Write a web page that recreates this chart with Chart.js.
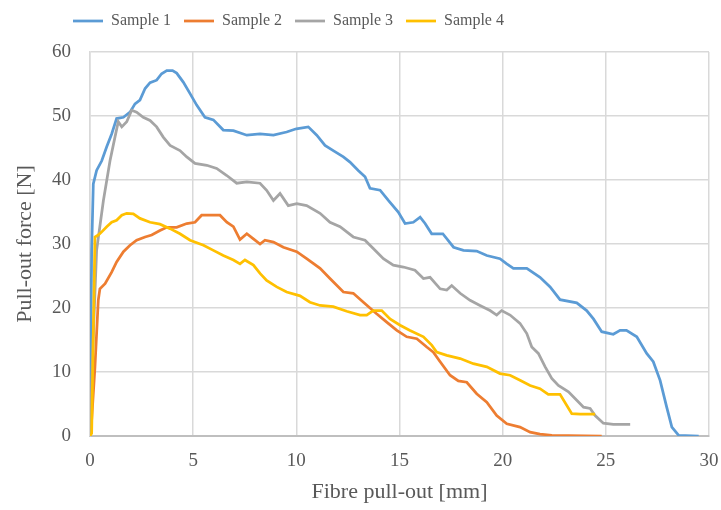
<!DOCTYPE html>
<html>
<head>
<meta charset="utf-8">
<script src="https://cdn.jsdelivr.net/npm/chart.js@4.4.1/dist/chart.umd.min.js"></script>
<style>
  html, body { margin: 0; padding: 0; background: #fff; }
</style>
</head>
<body>
<canvas id="pullout" width="721" height="510"></canvas>
<script>
// pull-out curves, force [N] against displacement [mm]
const sample1X = [0, 0.08, 0.16, 0.32, 0.57, 0.81, 1.05, 1.29, 1.62, 1.94, 2.18, 2.42, 2.67, 2.91, 3.23, 3.47, 3.72, 4.0, 4.2, 4.52, 4.85, 5.17, 5.57, 5.98, 6.46, 6.95, 7.6, 8.24, 8.89, 9.53, 10.0, 10.58, 10.99, 11.39, 11.79, 12.28, 12.6, 13.0, 13.33, 13.57, 14.06, 14.46, 14.94, 15.27, 15.67, 16.0, 16.24, 16.56, 17.1, 17.62, 18.1, 18.74, 19.23, 19.87, 20.2, 20.52, 21.17, 21.81, 22.3, 22.78, 23.59, 24.07, 24.4, 24.8, 25.36, 25.69, 26.0, 26.5, 26.98, 27.3, 27.63, 27.95, 28.2, 28.53, 29.5]
const sample1Y = [0, 29, 39.4, 41.5, 43, 45.2, 47.2, 49.6, 49.8, 50.6, 51.9, 52.5, 54.3, 55.2, 55.6, 56.6, 57.1, 57.1, 56.7, 55.3, 53.5, 51.7, 49.8, 49.4, 47.8, 47.7, 47.0, 47.2, 47.0, 47.5, 48.0, 48.3, 47.0, 45.4, 44.6, 43.6, 42.8, 41.5, 40.5, 38.7, 38.4, 36.8, 35.0, 33.2, 33.4, 34.2, 33.2, 31.6, 31.6, 29.5, 29.0, 28.9, 28.2, 27.7, 26.9, 26.2, 26.2, 24.8, 23.3, 21.3, 20.8, 19.6, 18.3, 16.3, 15.9, 16.5, 16.5, 15.5, 12.9, 11.6, 8.7, 4.5, 1.4, 0.1, 0]

const sample2X = [0, 0.08, 0.24, 0.40, 0.48, 0.73, 1.05, 1.29, 1.62, 1.94, 2.26, 2.67, 2.99, 3.39, 3.72, 4.2, 4.69, 5.09, 5.41, 5.98, 6.3, 6.63, 6.95, 7.27, 7.6, 7.92, 8.24, 8.48, 8.89, 9.37, 10.02, 10.5, 11.15, 11.63, 12.28, 12.76, 13.25, 13.89, 14.38, 14.87, 15.35, 15.84, 16.32, 16.64, 16.97, 17.45, 17.85, 18.26, 18.74, 19.23, 19.71, 20.2, 20.84, 21.33, 21.81, 22.38, 24.8]
const sample2Y = [0, 2.5, 10.8, 21.2, 23.0, 23.8, 25.6, 27.2, 28.8, 29.8, 30.6, 31.1, 31.4, 32.1, 32.6, 32.6, 33.2, 33.4, 34.5, 34.5, 34.5, 33.4, 32.7, 30.7, 31.6, 30.8, 30.0, 30.6, 30.3, 29.5, 28.8, 27.7, 26.2, 24.6, 22.5, 22.3, 20.9, 19.1, 17.8, 16.5, 15.5, 15.2, 13.9, 13.1, 11.6, 9.5, 8.6, 8.4, 6.6, 5.3, 3.2, 1.9, 1.4, 0.6, 0.3, 0.1, 0]

const sample3X = [0, 0.15, 0.32, 0.65, 0.97, 1.21, 1.37, 1.54, 1.78, 2.02, 2.26, 2.58, 2.91, 3.23, 3.55, 3.88, 4.36, 4.69, 5.09, 5.66, 6.14, 6.63, 7.11, 7.6, 8.24, 8.56, 8.89, 9.21, 9.61, 10.02, 10.5, 11.15, 11.63, 12.12, 12.76, 13.33, 13.73, 14.22, 14.7, 15.19, 15.75, 16.16, 16.48, 16.97, 17.29, 17.53, 17.94, 18.42, 18.9, 19.39, 19.71, 19.95, 20.36, 20.84, 21.17, 21.41, 21.73, 22.06, 22.38, 22.7, 23.19, 23.59, 23.92, 24.24, 24.48, 24.88, 25.36, 26.18]
const sample3Y = [0, 15, 29, 36.8, 43, 46.7, 49.1, 48.3, 49.1, 50.9, 50.6, 49.8, 49.3, 48.3, 46.7, 45.4, 44.6, 43.6, 42.6, 42.3, 41.8, 40.7, 39.5, 39.7, 39.5, 38.4, 36.8, 37.9, 36.0, 36.3, 36.0, 34.8, 33.4, 32.7, 31.1, 30.6, 29.3, 27.7, 26.7, 26.4, 25.9, 24.6, 24.8, 23.0, 22.8, 23.5, 22.3, 21.2, 20.4, 19.6, 18.9, 19.6, 18.9, 17.6, 16.0, 13.9, 12.9, 10.8, 9.0, 7.9, 6.9, 5.6, 4.5, 4.3, 3.2, 2.0, 1.8, 1.8]

const sample4X = [0, 0.08, 0.16, 0.24, 0.40, 0.57, 0.81, 1.05, 1.29, 1.54, 1.78, 2.1, 2.42, 2.91, 3.39, 3.88, 4.36, 4.85, 5.5, 5.98, 6.46, 6.95, 7.27, 7.51, 7.92, 8.24, 8.56, 9.05, 9.53, 10.18, 10.66, 11.15, 11.79, 12.44, 13.09, 13.41, 13.73, 14.14, 14.54, 15.03, 15.51, 16.16, 16.56, 16.8, 17.29, 17.94, 18.58, 19.23, 19.87, 20.36, 20.84, 21.33, 21.81, 22.21, 22.78, 23.35, 23.75, 24.48]
const sample4Y = [0, 0.4, 16, 31.1, 31.4, 31.9, 32.7, 33.4, 33.7, 34.5, 34.8, 34.7, 34.0, 33.4, 33.1, 32.4, 31.6, 30.6, 29.8, 29.0, 28.2, 27.5, 26.9, 27.5, 26.7, 25.4, 24.3, 23.3, 22.5, 21.9, 20.9, 20.4, 20.2, 19.5, 18.9, 18.9, 19.6, 19.6, 18.3, 17.3, 16.5, 15.5, 14.2, 13.1, 12.6, 12.1, 11.3, 10.8, 9.75, 9.5, 8.7, 7.9, 7.4, 6.5, 6.5, 3.5, 3.4, 3.4]

const seriesNames = ['Sample 1', 'Sample 2', 'Sample 3', 'Sample 4']
const seriesColours = ['#5b9bd5', '#ed7d31', '#a5a5a5', '#ffc000']
const xTicks = { min: 0, max: 30, step: 5 }
const yTicks = { min: 0, max: 60, step: 10 }

const FONT = "'Liberation Serif', 'Times New Roman', serif"
const TEXT = '#595959'

const toPoints = (xs, ys) => xs.map((x, i) => ({ x, y: ys[i] }))

const curves = [
  toPoints(sample1X, sample1Y),
  toPoints(sample2X, sample2Y),
  toPoints(sample3X, sample3Y),
  toPoints(sample4X, sample4Y),
]

// later samples sit on top, legend stays in sample order
const datasets = curves.map((data, i) => ({
  label: seriesNames[i],
  data,
  borderColor: seriesColours[i],
  backgroundColor: seriesColours[i],
  borderWidth: 2.75,
  pointRadius: 0,
  showLine: true,
  tension: 0,
  order: curves.length - i,
}))

// extra gap under the legend and a left-shifted legend row
const legendPlacement = {
  id: 'legendPlacement',
  afterInit(chart) {
    const legend = chart.legend
    const fit = legend.fit
    legend.fit = function () {
      fit.call(this)
      this.height += 13
    }
  },
  afterLayout(chart) {
    chart.legend.left = 60
  },
}

new Chart(document.getElementById('pullout'), {
  type: 'scatter',
  data: { datasets },
  plugins: [legendPlacement],
  options: {
    responsive: false,
    animation: false,
    layout: { padding: 0 },
    plugins: {
      tooltip: { enabled: false },
      legend: {
        position: 'top',
        align: 'start',
        labels: {
          usePointStyle: true,
          pointStyle: 'line',
          pointStyleWidth: 30,
          padding: 13,
          color: TEXT,
          font: { family: FONT, size: 16 },
          sort: (a, b) => a.datasetIndex - b.datasetIndex,
        },
      },
    },
    scales: {
      x: {
        type: 'linear',
        min: xTicks.min,
        max: xTicks.max,
        afterFit(scale) {
          scale.height = 74
          scale.paddingRight = 12
        },
        ticks: {
          stepSize: xTicks.step,
          padding: 14,
          color: TEXT,
          font: { family: FONT, size: 19 },
        },
        grid: { color: '#d9d9d9', lineWidth: 1.5, drawTicks: false },
        border: { color: '#bfbfbf', width: 2 },
        title: {
          display: true,
          text: 'Fibre pull-out [mm]',
          color: TEXT,
          font: { family: FONT, size: 22 },
          padding: { top: 2, bottom: 5 },
        },
      },
      y: {
        type: 'linear',
        min: yTicks.min,
        max: yTicks.max,
        afterFit(scale) { scale.width = 90 },
        ticks: {
          stepSize: yTicks.step,
          padding: 19,
          color: TEXT,
          font: { family: FONT, size: 19 },
        },
        grid: { color: '#d9d9d9', lineWidth: 1.5, drawTicks: false },
        border: { color: '#d9d9d9', width: 1.5 },
        title: {
          display: true,
          text: 'Pull-out force [N]',
          color: TEXT,
          font: { family: FONT, size: 22 },
          padding: { top: 12, bottom: 0 },
        },
      },
    },
  },
})
</script>
</body>
</html>
